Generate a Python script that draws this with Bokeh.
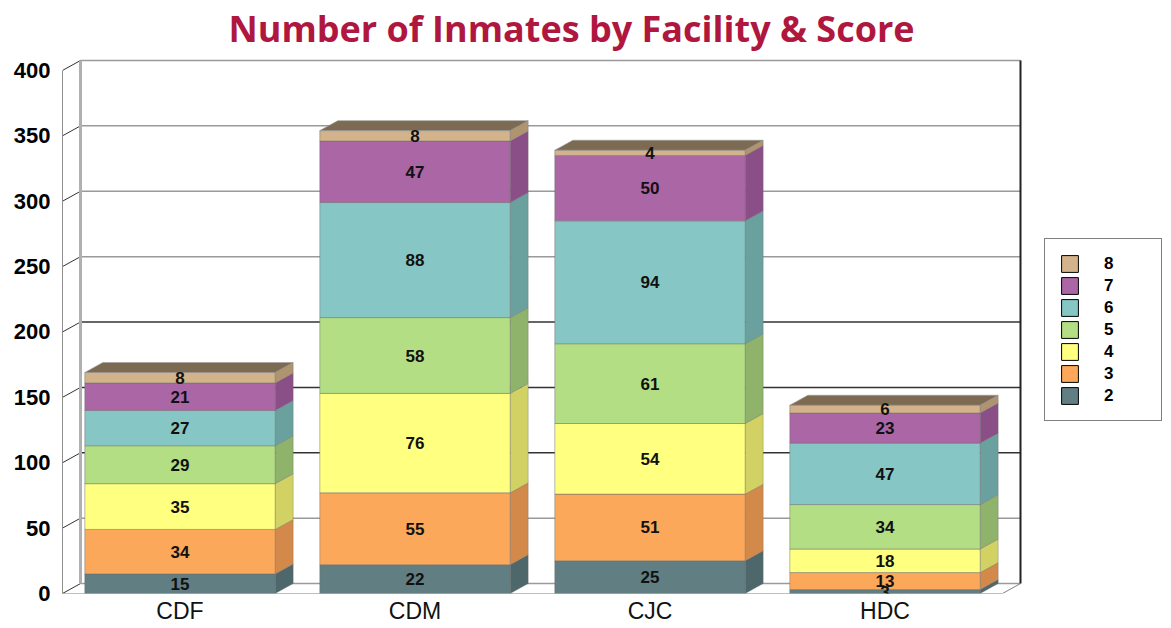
from bokeh.plotting import figure
from bokeh.models import Range1d, FixedTicker, Legend, LegendItem
from bokeh.core.properties import value
from bokeh.embed import file_html
from bokeh.resources import INLINE

# ---------------- data ----------------
categories = ["CDF", "CDM", "CJC", "HDC"]
scores = ["2", "3", "4", "5", "6", "7", "8"]
score_2 = [15, 22, 25, 3]
score_3 = [34, 55, 51, 13]
score_4 = [35, 76, 54, 18]
score_5 = [29, 58, 61, 34]
score_6 = [27, 88, 94, 47]
score_7 = [21, 47, 50, 23]
score_8 = [8, 8, 4, 6]
series = [score_2, score_3, score_4, score_5, score_6, score_7, score_8]
y_ticks = [0, 50, 100, 150, 200, 250, 300, 350, 400]

# ---------------- styles ----------------
front_colors = ["#617e83", "#fca85a", "#ffff80", "#b3de83", "#86c7c5", "#ab66a6", "#d3b38b"]
side_colors = ["#4e676b", "#d3894a", "#d2d163", "#8fb36a", "#6aa09e", "#8a4f87", "#b0946f"]
top_color = "#7c6b52"
grid_colors = ["#9a9a9a", "#9a9a9a", "#333333", "#333333", "#333333", "#9a9a9a", "#9a9a9a", "#9a9a9a", "#9a9a9a"]

PX_X = 235.0      # pixels per category unit
PX_Y = 1.3125     # pixels per value unit
DX = 18 / PX_X    # 3D depth offset (x units)
DY = 10 / PX_Y    # 3D depth offset (y units)
BAR_W = 0.81
n = len(categories)

FRAME_W, FRAME_H = 1101, 540
p = figure(width=1163, height=626, output_backend="svg", toolbar_location=None,
           x_range=Range1d(0, FRAME_W / PX_X), y_range=Range1d(0, FRAME_H / PX_Y),
           min_border_left=62, min_border_right=0, min_border_top=55, min_border_bottom=31)
p.outline_line_color = None
p.grid.visible = False
p.background_fill_color = "white"

# title
p.title.text = "Number of Inmates by Facility & Score"
p.title.text_font = "Open Sans"
p.title.text_font_style = "bold"
p.title.text_font_size = "36px"
p.title.text_color = "#b0173f"
p.title.align = "left"
p.title.offset = 166
p.title.standoff = 2
p.title.vertical_align = "top"

# axes
yax = p.yaxis[0]
yax.ticker = FixedTicker(ticks=y_ticks)
yax.bounds = (0, 400)
yax.axis_line_color = "#909090"
yax.major_tick_line_color = None
yax.minor_tick_line_color = None
yax.major_tick_in = 0
yax.major_tick_out = 0
yax.major_label_standoff = 12
yax.major_label_text_font = "Liberation Sans"
yax.major_label_text_font_style = "bold"
yax.major_label_text_font_size = "22px"
yax.major_label_text_color = "black"

xax = p.xaxis[0]
xax.ticker = FixedTicker(ticks=[i + 0.5 for i in range(n)])
xax.major_label_overrides = {i + 0.5: c for i, c in enumerate(categories)}
xax.axis_line_color = None
xax.major_tick_line_color = None
xax.minor_tick_line_color = None
xax.major_tick_in = 0
xax.major_tick_out = 0
xax.major_label_standoff = 4
xax.major_label_text_font = "Liberation Sans"
xax.major_label_text_font_size = "23px"
xax.major_label_text_color = "#111111"

# back wall gridlines
p.segment(x0=[DX] * len(y_ticks), y0=[v + DY for v in y_ticks],
          x1=[n + DX] * len(y_ticks), y1=[v + DY for v in y_ticks],
          line_color=grid_colors, line_width=1.5)
# left wall slanted ticks
p.segment(x0=[0] * len(y_ticks), y0=y_ticks, x1=[DX] * len(y_ticks),
          y1=[v + DY for v in y_ticks], line_color="#333333", line_width=1)
# left wall back edge
p.segment(x0=[DX], y0=[DY], x1=[DX], y1=[400 + DY], line_color="#b0b0b0", line_width=3)
# right wall edge
p.segment(x0=[n + DX], y0=[DY], x1=[n + DX], y1=[400 + DY], line_color="#222222", line_width=2)
# floor
p.segment(x0=[0, n], y0=[0, 0], x1=[n, n + DX], y1=[0, DY], line_color="#808080", line_width=1)

# bars
fl, fr, fb, ft, fc = [], [], [], [], []
sxs, sys, sc = [], [], []
txs, tys = [], []
lx, ly, lt = [], [], []
for i in range(n):
    xc = i + 0.5
    xl, xr = xc - BAR_W / 2, xc + BAR_W / 2
    base = 0
    for j, s in enumerate(series):
        v = s[i]
        b, t = base, base + v
        fl.append(xl); fr.append(xr); fb.append(b); ft.append(t); fc.append(front_colors[j])
        sxs.append([xr, xr + DX, xr + DX, xr]); sys.append([b, b + DY, t + DY, t]); sc.append(side_colors[j])
        lx.append(xc); ly.append((b + t) / 2); lt.append(str(v))
        base = t
    txs.append([xl, xl + DX, xr + DX, xr]); tys.append([base, base + DY, base + DY, base])

p.patches(xs=sxs, ys=sys, fill_color=sc, line_color="#6d6d6d", line_width=0.6, line_alpha=0.6)
p.quad(left=fl, right=fr, bottom=fb, top=ft, fill_color=fc, line_color="#6d6d6d", line_width=0.8, line_alpha=0.6)
p.patches(xs=txs, ys=tys, fill_color=top_color, line_color="#9a9a9a", line_width=0.6)

p.text(x=lx, y=ly, text=lt, text_font=value("Liberation Sans"), text_font_style="bold",
       text_font_size="17px", text_align="center", text_baseline="middle", text_color="#111111")

# legend (swatch renderers sit outside the visible ranges)
items = []
for j in reversed(range(len(scores))):
    r = p.quad(left=[-2], right=[-1], bottom=[-100], top=[-50],
               fill_color=front_colors[j], line_color="black", line_width=1)
    items.append(LegendItem(label=scores[j], renderers=[r]))
legend = Legend(items=items, location=(982, 172), glyph_width=21, glyph_height=21,
                label_standoff=24, label_height=20, spacing=1, padding=14, label_width=43,
                label_text_font="Liberation Sans", label_text_font_style="bold",
                label_text_font_size="17px", label_text_color="black",
                border_line_color="black", border_line_width=1,
                background_fill_color="white", margin=0)
p.add_layout(legend, "center")

open("out.html", "w").write(file_html(p, INLINE))
